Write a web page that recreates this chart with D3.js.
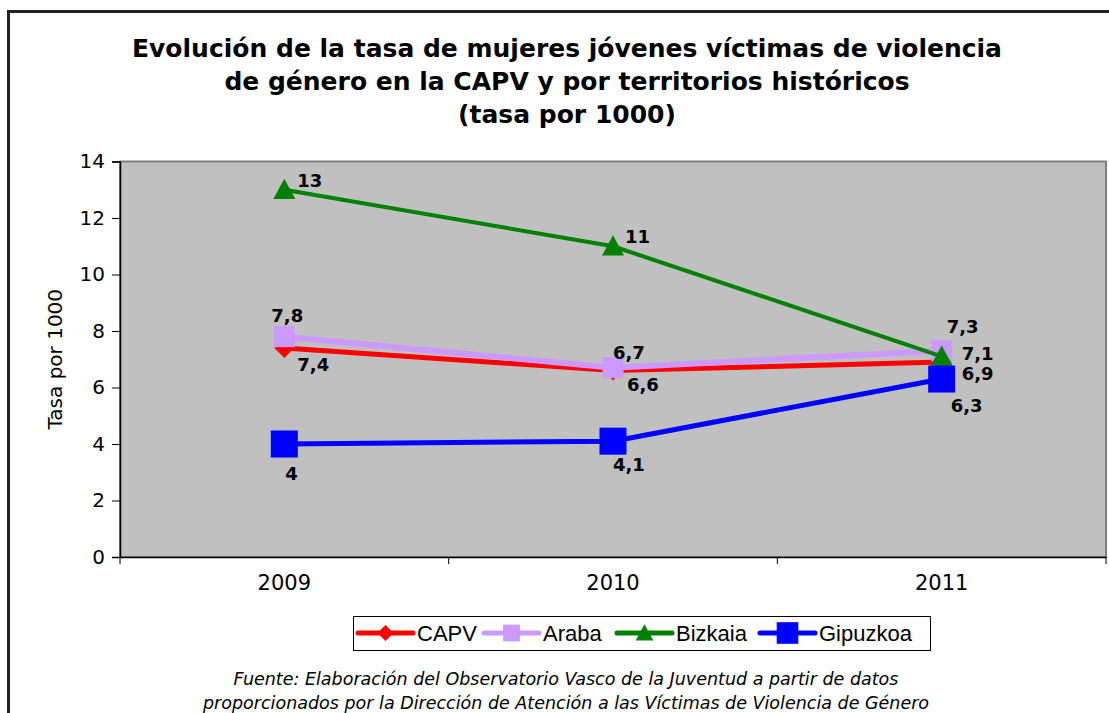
<!DOCTYPE html>
<meta charset="utf-8">
<style>
body { margin: 0; background: #fff; }
text { font-family: "DejaVu Sans", Verdana, sans-serif; }
.title { font-size: 25px; font-weight: bold; }
.lbl { font-size: 18px; font-weight: bold; }
.foot { font-size: 17.5px; font-style: italic; }
.leg { font-family: "Liberation Sans", Arial, sans-serif; font-size: 22px; }
</style>
<svg width="1109" height="713"></svg>
<script src="https://cdn.jsdelivr.net/npm/d3@7"></script>
<script>

var years = ["2009", "2010", "2011"];
var seriesNames = ["CAPV", "Araba", "Bizkaia", "Gipuzkoa"];
var capv = [7.4, 6.6, 6.9];
var araba = [7.8, 6.7, 7.3];
var bizkaia = [13, 11, 7.1];
var gipuzkoa = [4, 4.1, 6.3];
var yTicks = [0, 2, 4, 6, 8, 10, 12, 14];

var titleLines = ["Evolución de la tasa de mujeres jóvenes víctimas de violencia",
  "de género en la CAPV y por territorios históricos",
  "(tasa por 1000)"];
var footLines = ["Fuente: Elaboración del Observatorio Vasco de la Juventud a partir de datos",
  "proporcionados por la Dirección de Atención a las Víctimas de Violencia de Género"];

var svg = d3.select("svg");

// style per series
var style = {
  CAPV:     {color: "#ff0000", width: 5, shape: "diamond", size: 10},
  Araba:    {color: "#cc99ff", width: 6, shape: "square", size: 10.5},
  Bizkaia:  {color: "#008000", width: 4, shape: "triangle", size: 11},
  Gipuzkoa: {color: "#0000ff", width: 5, shape: "square", size: 13.5}
};
// label offsets [dx, dy] for each point
var labelPos = {
  CAPV:     [[13, 23], [14, 20], [20, 18]],
  Araba:    [[-13, -15], [0, -9], [5, -18]],
  Bizkaia:  [[13, -3], [12, -3], [20, 4]],
  Gipuzkoa: [[1, 36], [0, 30], [9, 33]]
};

var data = seriesNames.map(function(n, i) {
  return {name: n, values: [capv, araba, bizkaia, gipuzkoa][i]};
});

// outer frame
svg.append("rect")
  .attr("x", 8.5).attr("y", 11.5)
  .attr("width", 1120).attr("height", 720)
  .attr("fill", "none").attr("stroke", "#222").attr("stroke-width", 3);

svg.append("text").attr("class", "title")
  .attr("text-anchor", "middle")
  .selectAll("tspan").data(titleLines).enter().append("tspan")
  .attr("x", 567).attr("y", function(d, i) { return 57 + i * 33; })
  .text(function(d) { return d; });

var pLeft = 120, pRight = 1106, pTop = 161.5, pBottom = 557;

var x = d3.scaleBand().domain(years).range([pLeft, pRight]);
var y = d3.scaleLinear().domain([0, 14]).range([pBottom, pTop]);

svg.append("rect")
  .attr("x", pLeft).attr("y", pTop)
  .attr("width", pRight - pLeft).attr("height", pBottom - pTop)
  .attr("fill", "#c0c0c0").attr("stroke", "#808080").attr("stroke-width", 2);

var yAxis = svg.append("g")
  .attr("transform", "translate(" + pLeft + ",0)")
  .call(d3.axisLeft(y).tickValues(yTicks).tickSize(8).tickPadding(7));
yAxis.selectAll("text").style("font-size", "20px").style("font-family", "DejaVu Sans");

var xAxis = svg.append("g")
  .attr("transform", "translate(0," + pBottom + ")")
  .call(d3.axisBottom(x).tickSize(0).tickPadding(18));
xAxis.selectAll("text").style("font-size", "21px").style("font-family", "DejaVu Sans");
// category separators below the axis
xAxis.selectAll(".sep")
  .data(years.concat([null]))
  .enter().append("line")
  .attr("x1", function(d, i) { return pLeft + i * x.step(); })
  .attr("x2", function(d, i) { return pLeft + i * x.step(); })
  .attr("y1", 0).attr("y2", 7)
  .attr("stroke", "#000");
svg.selectAll(".domain").attr("stroke", "#000").attr("stroke-width", 1.5);

svg.append("text")
  .attr("transform", "translate(62," + ((pTop + pBottom) / 2) + ") rotate(-90)")
  .attr("text-anchor", "middle")
  .style("font-size", "20px")
  .text("Tasa por 1000");

function cx(i) { return x(years[i]) + x.bandwidth() / 2; }

function marker(sel, shape, s) {
  if (shape == "square") {
    sel.append("rect").attr("x", -s).attr("y", -s).attr("width", 2 * s).attr("height", 2 * s);
  } else if (shape == "diamond") {
    sel.append("path").attr("d", "M0," + (-s) + "L" + s + ",0L0," + s + "L" + (-s) + ",0Z");
  } else {
    sel.append("path").attr("d", "M0," + (-s) + "L" + s + "," + (s * 0.85) + "L" + (-s) + "," + (s * 0.85) + "Z");
  }
}

var line = d3.line()
  .x(function(d, i) { return cx(i); })
  .y(function(d) { return y(d); });

data.forEach(function(s) {
  var st = style[s.name];
  svg.append("path")
    .datum(s.values)
    .attr("d", line)
    .attr("fill", "none")
    .attr("stroke", st.color)
    .attr("stroke-width", st.width);
  s.values.forEach(function(v, i) {
    var g = svg.append("g")
      .attr("transform", "translate(" + cx(i) + "," + y(v) + ")")
      .attr("fill", st.color);
    marker(g, st.shape, st.size);
  });
});

// data labels
data.forEach(function(s) {
  s.values.forEach(function(v, i) {
    svg.append("text").attr("class", "lbl")
      .attr("x", cx(i) + labelPos[s.name][i][0])
      .attr("y", y(v) + labelPos[s.name][i][1])
      .text(String(v).replace(".", ","));
  });
});

// legend
var leg = svg.append("g");
leg.append("rect")
  .attr("x", 353.5).attr("y", 616.5).attr("width", 577).attr("height", 34)
  .attr("fill", "#fff").attr("stroke", "#000").attr("stroke-width", 1);
var legX = [358, 484, 617, 760];
data.forEach(function(s, i) {
  var st = style[s.name];
  var g = leg.append("g").attr("transform", "translate(" + legX[i] + ",633)");
  g.append("line").attr("x1", 0).attr("x2", 55)
    .attr("stroke", st.color).attr("stroke-width", 5).attr("stroke-linecap", "round");
  var m = g.append("g").attr("transform", "translate(27.5,0)").attr("fill", st.color);
  marker(m, st.shape, st.size * 0.8);
  g.append("text").attr("class", "leg")
    .attr("x", 59).attr("y", 8)
    .text(s.name);
});

svg.append("text").attr("class", "foot")
  .attr("text-anchor", "middle")
  .selectAll("tspan").data(footLines).enter().append("tspan")
  .attr("x", 566).attr("y", function(d, i) { return 685 + i * 24; })
  .text(function(d) { return d; });

</script>
